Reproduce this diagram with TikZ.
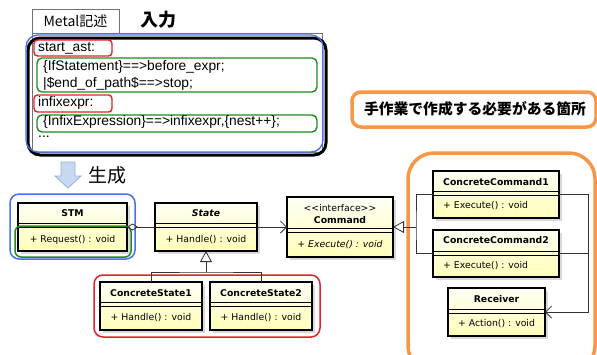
\documentclass[tikz,border=0pt]{standalone}
\usepackage{fontspec}
\setmainfont{Liberation Sans}
\newfontfamily\cjk{Noto Sans CJK JP}
\newfontfamily\umlf{DejaVu Sans}
\usetikzlibrary{arrows.meta}
\definecolor{orng}{HTML}{F79646}
\definecolor{blu}{HTML}{4472E8}
\definecolor{grn}{HTML}{1E8C1E}
\definecolor{rd}{HTML}{E8202A}
\definecolor{arrfill}{HTML}{C6D9F1}
\definecolor{arrline}{HTML}{95B3D7}
\tikzset{
  classbox/.style={draw=black,line width=1.3pt,top color=yellow!4,bottom color=yellow!28,inner sep=0pt,outer sep=0pt},
  ctitle/.style={font=\umlf\bfseries\fontsize{9.3}{10}\selectfont,inner sep=0pt},
  cmeth/.style={font=\umlf\fontsize{9.3}{10}\selectfont,inner sep=0pt},
  code/.style={font=\fontsize{13.8}{15}\selectfont,anchor=west,inner sep=0pt},
  conn/.style={draw=black!80,line width=0.8pt},
  hl/.style={line width=1.4pt,rounded corners=3.5pt},
}
\newcommand\umlcls[6]{%
  \fill[black!15] (#2+3,#3+3) rectangle (#4+3,#5+3);
  \node[classbox,minimum width={(#4-#2)*1pt},minimum height={(#5-#3)*1pt}] (#1) at ({(#2+#4)/2},{(#3+#5)/2}) {};
  \draw[black,line width=0.6pt] (#2,#6) -- (#4,#6) (#2,#6+4) -- (#4,#6+4);
}
\begin{document}
\begin{tikzpicture}[x=1pt,y=-1pt]
\useasboundingbox (0,0) rectangle (597,354);
\fill[white] (0,0) rectangle (597,354);

% ---- Metal input ----
\node[draw=black!55,fill=white,line width=0.6pt,minimum width=87pt,minimum height=24pt,inner sep=0pt,font=\cjk\fontsize{14}{16}\selectfont] (tab) at (75.5,21) {Metal記述};
\node[font=\cjk\bfseries\fontsize{18}{20}\selectfont,inner sep=0pt] (inp) at (158,20) {入力};
\fill[white] (32,33) rectangle (322,152);
\draw[black!55,line width=0.6pt] (32,33) rectangle (322,152);
\draw[black,line width=3pt,rounded corners=12pt] (28,38) rectangle (326,155);
\draw[blu,line width=1.3pt,rounded corners=12pt] (26,35) rectangle (323,152);
\draw[rd,hl] (34,40) rectangle (112,56);
\draw[grn,hl,rounded corners=5pt] (37,58) rectangle (317,92);
\draw[rd,hl] (34,95) rectangle (112,112);
\draw[grn,hl,rounded corners=5pt] (37,115) rectangle (317,132);
\node[code] (l1) at (38,48) {start\_ast:};
\node[code] (l2) at (43,67) {\{IfStatement\}==>before\_expr;};
\node[code] (l3) at (43,84) {|\$end\_of\_path\$==>stop;};
\node[code] (l4) at (38,103) {infixexpr:};
\node[code] (l5) at (43,122) {\{InfixExpression\}==>infixexpr,\{nest++\};};
\node[code] (l6) at (38,137) {...};

% ---- generate arrow ----
\filldraw[fill=arrfill,draw=arrline,line width=0.8pt] (61,162) -- (75,162) -- (75,176) -- (81,176) -- (68,188) -- (55,176) -- (61,176) -- cycle;
\node[font=\cjk\fontsize{19}{21}\selectfont,inner sep=0pt] (gen) at (107,175) {生成};

% ---- manual note ----
\draw[orng,line width=3.5pt,rounded corners=9pt] (352,92) rectangle (596,127);
\node[font=\cjk\bfseries\fontsize{14.8}{16}\selectfont,inner sep=0pt] (note) at (475,109) {手作業で作成する必要がある箇所};

% ---- big orange frame ----
\draw[orng,line width=3.5pt,rounded corners=26pt] (408,153) rectangle (595,372);

% ---- classes ----
\umlcls{stm}{18}{203}{127}{251}{223}
\node[ctitle] (stmt) at (72.5,213) {STM};
\node[cmeth] (stmm) at (72.5,240) {+ Request() : void};

\umlcls{state}{155}{203}{257}{251}{223}
\node[ctitle,font=\umlf\bfseries\itshape\fontsize{9.3}{10}\selectfont] (statet) at (206,213) {State};
\node[cmeth] (statem) at (206,240) {+ Handle() : void};

\umlcls{cs1}{100}{282}{202}{330}{302}
\node[ctitle] (cs1t) at (151,293) {ConcreteState1};
\node[cmeth] (cs1m) at (151,318) {+ Handle() : void};

\umlcls{cs2}{210}{282}{312}{330}{302}
\node[ctitle] (cs2t) at (261,293) {ConcreteState2};
\node[cmeth] (cs2m) at (261,318) {+ Handle() : void};

\umlcls{cmd}{287}{197}{393}{257}{228}
\node[cmeth] (cmdi) at (340,208) {<{}<interface>{}>};
\node[ctitle] (cmdt) at (340,220) {Command};
\node[cmeth,font=\umlf\itshape\fontsize{9.3}{10}\selectfont] (cmdm) at (340,245) {+ Execute() : void};

\umlcls{cc1}{433}{171}{559}{218}{191}
\node[ctitle] (cc1t) at (496,182) {ConcreteCommand1};
\node[cmeth,anchor=west] (cc1m) at (443,206) {+ Execute() : void};

\umlcls{cc2}{433}{230}{559}{277}{251}
\node[ctitle] (cc2t) at (496,240) {ConcreteCommand2};
\node[cmeth,anchor=west] (cc2m) at (443,266) {+ Execute() : void};

\umlcls{rcv}{448}{288}{545}{336}{309}
\node[ctitle] (rcvt) at (496.5,299) {Receiver};
\node[cmeth] (rcvm) at (496.5,324) {+ Action() : void};

% ---- highlight frames ----
\draw[blu,line width=1.5pt,rounded corners=9pt] (10,194) rectangle (135,259);
\draw[grn,line width=1.5pt,rounded corners=6pt] (15,226) rectangle (131,257);
\draw[rd,line width=1.5pt,rounded corners=9pt] (94,275) rectangle (320,337);

% ---- connectors ----
\draw[conn,{Diamond[open,length=11pt,width=7pt]}-] (stm.east) -- (state.west);
\draw[conn,-{Straight Barb[length=6pt,width=12pt]}] (state.east) -- (cmd.west);
\coordinate (g1) at (206,272);
\draw[conn] (cs1.north) |- (g1) -| (cs2.north);
\draw[conn,-{Triangle[open,length=11pt,width=12pt]}] (g1) -- (state.south);
\coordinate (g2) at (416,227);
\draw[conn] (cc1.west) -| (g2) |- (cc2.west);
\draw[conn,-{Triangle[open,length=11pt,width=12pt]}] (g2) -- (cmd.east);
\coordinate (a1) at (588,312);
\draw[conn,-{Straight Barb[length=6pt,width=12pt]}] (cc1.east) -| (a1) -- (rcv.east);
\draw[conn] (cc2.east) -- (cc2.east -| a1);
\end{tikzpicture}
\end{document}
